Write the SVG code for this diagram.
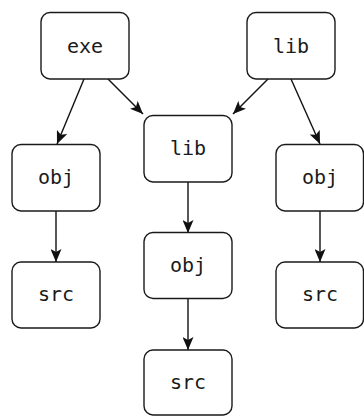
<svg xmlns="http://www.w3.org/2000/svg" width="364" height="416" viewBox="0 0 364 416">
<style>
.n rect{fill:#fff;stroke:#1a1a1a;stroke-width:1.4}
.n text{font-family:"DejaVu Sans Mono",monospace;font-size:20px;fill:#1a1a1a;text-anchor:middle}
.e line{stroke:#111;stroke-width:1.4}
</style>
<defs>
<marker id="a" viewBox="0 0 13 11" refX="13" refY="5.5" markerWidth="13" markerHeight="11" markerUnits="userSpaceOnUse" orient="auto">
<path d="M0,0 L13,5.5 L0,11 L3,5.5 z" fill="#111"/>
</marker>
</defs>
<g class="e">
<line x1="84" y1="79" x2="57" y2="144" marker-end="url(#a)"/>
<line x1="108" y1="79" x2="143" y2="114" marker-end="url(#a)"/>
<line x1="268" y1="79" x2="233" y2="114" marker-end="url(#a)"/>
<line x1="291" y1="79" x2="320" y2="144" marker-end="url(#a)"/>
<line x1="188" y1="182" x2="188" y2="233" marker-end="url(#a)"/>
<line x1="56" y1="211" x2="56" y2="262" marker-end="url(#a)"/>
<line x1="320" y1="211" x2="320" y2="262" marker-end="url(#a)"/>
<line x1="188" y1="298" x2="188" y2="350" marker-end="url(#a)"/>
</g>
<g id="exe" class="n"><rect x="41" y="12.5" width="88" height="66.5" rx="9"/><text x="85" y="52.5">exe</text></g>
<g id="lib1" class="n"><rect x="247" y="12.5" width="88" height="66.5" rx="9"/><text x="291" y="52.5">lib</text></g>
<g id="lib2" class="n"><rect x="144" y="115.5" width="88" height="66.5" rx="9"/><text x="188" y="155">lib</text></g>
<g id="obj1" class="n"><rect x="12" y="144.5" width="88" height="66.5" rx="9"/><text x="56" y="184">obj</text></g>
<g id="obj2" class="n"><rect x="144" y="232.5" width="88" height="66" rx="9"/><text x="188" y="272">obj</text></g>
<g id="obj3" class="n"><rect x="276" y="144.5" width="87.5" height="66.5" rx="9"/><text x="320" y="184">obj</text></g>
<g id="src1" class="n"><rect x="12" y="262" width="88" height="66" rx="9"/><text x="56" y="301">src</text></g>
<g id="src2" class="n"><rect x="144" y="350" width="88" height="65" rx="9"/><text x="188" y="389">src</text></g>
<g id="src3" class="n"><rect x="276" y="262" width="87.5" height="66" rx="9"/><text x="320" y="301">src</text></g>
</svg>
